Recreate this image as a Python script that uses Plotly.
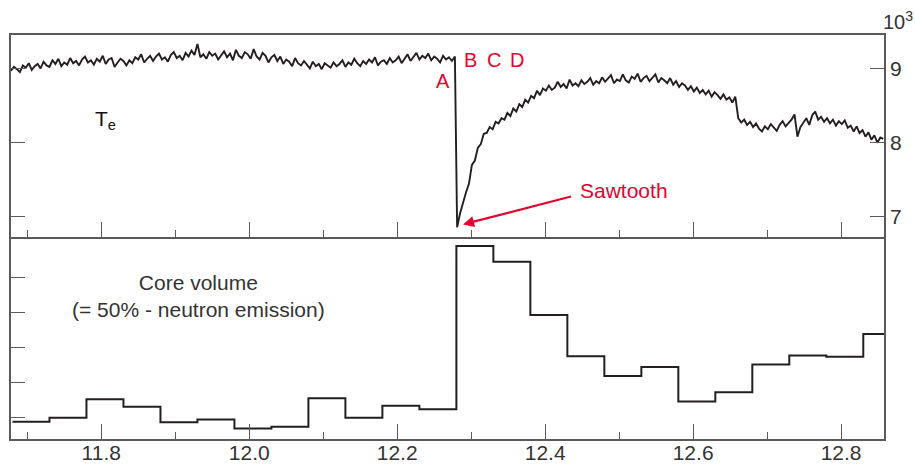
import plotly.graph_objects as go

# ---------------- data ----------------
# Electron temperature trace (units of 10^3), uniform sampling
te_left_t0 = 11.678
te_right_t0 = 12.281
te_dt = 0.004
te_left = [
    8.97, 9.02, 8.99, 8.95, 9.04, 9.01, 9.07, 8.98, 9.03, 9.06,
    9.00, 9.09, 9.04, 9.02, 9.11, 9.06, 9.13, 9.03, 9.08, 9.05,
    9.14, 9.07, 9.10, 9.04, 9.12, 9.16, 9.08, 9.11, 9.05, 9.13,
    9.09, 9.17, 9.06, 9.12, 9.14, 9.02, 9.08, 9.13, 9.10, 9.04,
    9.11, 9.07, 9.15, 9.12, 9.19, 9.08, 9.13, 9.17, 9.10, 9.16,
    9.20, 9.12, 9.15, 9.09, 9.18, 9.22, 9.14, 9.17, 9.11, 9.21,
    9.16, 9.24, 9.18, 9.33, 9.15, 9.19, 9.13, 9.22, 9.17, 9.20,
    9.12, 9.18, 9.23, 9.15, 9.20, 9.11, 9.25, 9.17, 9.14, 9.22,
    9.19, 9.13, 9.26, 9.16, 9.12, 9.21, 9.17, 9.08, 9.15, 9.18,
    9.10, 9.16, 9.06, 9.12, 9.09, 9.03, 9.14, 9.07, 9.04, 9.10,
    9.05, 9.00, 9.09, 9.03, 9.06, 8.99, 9.07, 9.04, 9.01, 9.08,
    9.03, 9.06, 9.11, 9.02, 9.08, 9.05, 9.13, 9.07, 9.03, 9.10,
    9.06, 9.12, 9.08, 9.15, 9.04, 9.09, 9.11, 9.06, 9.14, 9.08,
    9.11, 9.16, 9.07, 9.13, 9.19, 9.10, 9.15, 9.21, 9.12, 9.17,
    9.14, 9.20, 9.11, 9.16, 9.13, 9.08, 9.17, 9.12, 9.15, 9.10,
    9.16,
]
te_right = [
    6.86, 7.05, 7.20, 7.33, 7.45, 7.70, 7.76, 7.93, 7.98, 8.12,
    8.13, 8.21, 8.18, 8.28, 8.26, 8.33, 8.31, 8.40, 8.36, 8.46,
    8.42, 8.52, 8.48, 8.58, 8.54, 8.63, 8.60, 8.70, 8.64, 8.73,
    8.70, 8.77, 8.71, 8.74, 8.82, 8.75, 8.79, 8.73, 8.85, 8.77,
    8.80, 8.76, 8.84, 8.79, 8.82, 8.87, 8.78, 8.83, 8.80, 8.88,
    8.82, 8.86, 8.91, 8.80, 8.85, 8.83, 8.92, 8.84, 8.81, 8.89,
    8.86, 8.93, 8.82, 8.87, 8.90, 8.83, 8.88, 8.92, 8.81, 8.87,
    8.84, 8.80, 8.87, 8.78, 8.83, 8.75, 8.80, 8.77, 8.71, 8.76,
    8.69, 8.74, 8.67, 8.71, 8.65, 8.70, 8.62, 8.68, 8.64, 8.59,
    8.65, 8.58, 8.61, 8.54, 8.62, 8.33, 8.27, 8.31, 8.24, 8.28,
    8.21, 8.26, 8.19, 8.15, 8.22, 8.18, 8.25, 8.20, 8.16, 8.24,
    8.29, 8.22, 8.27, 8.31, 8.38, 8.08, 8.21, 8.28, 8.33, 8.24,
    8.37, 8.42, 8.31, 8.35, 8.28, 8.33, 8.26, 8.31, 8.23, 8.29,
    8.25, 8.30, 8.20, 8.23, 8.15, 8.22, 8.13, 8.17, 8.08, 8.14,
    8.04, 8.10, 8.00, 8.07, 8.05,
]

# Core volume (neutron emission) histogram, arbitrary units
core_edges = [11.68, 11.73, 11.78, 11.83, 11.88, 11.93, 11.98, 12.03, 12.08,
              12.13, 12.18, 12.23, 12.28, 12.33, 12.38, 12.43, 12.48, 12.53,
              12.58, 12.63, 12.68, 12.73, 12.78, 12.83, 12.88]
core_levels = [0.89, 1.01, 1.53, 1.32, 0.88, 0.96, 0.70, 0.75, 1.56, 1.01,
               1.35, 1.25, 5.88, 5.43, 3.92, 2.75, 2.19, 2.45, 1.47, 1.73,
               2.52, 2.77, 2.74, 3.38]

x_major = [11.8, 12.0, 12.2, 12.4, 12.6, 12.8]
x_major_text = ["11.8", "12.0", "12.2", "12.4", "12.6", "12.8"]
x_minor = [11.7, 11.9, 12.1, 12.3, 12.5, 12.7]
te_ticks = [7, 8, 9]
core_ticks = [1, 2, 3, 4, 5]

# ---------------- figure ----------------
te_t = [te_left_t0 + te_dt * i for i in range(len(te_left))] + \
       [te_right_t0 + te_dt * j for j in range(len(te_right))]
te_v = te_left + te_right

LINE = "#231f20"
AX = "#5a5a5a"
RED = "#e4032e"
TXT = "#333333"
FONT = "Liberation Sans, Arial, sans-serif"

fig = go.Figure()
fig.add_trace(go.Scatter(x=te_t, y=te_v, mode="lines", xaxis="x2", yaxis="y2",
                         line=dict(color=LINE, width=1.9), showlegend=False,
                         hoverinfo="skip"))
fig.add_trace(go.Scatter(x=core_edges[:-1] + [core_edges[-1]],
                         y=core_levels + [core_levels[-1]],
                         mode="lines", line=dict(color=LINE, width=2, shape="hv"),
                         xaxis="x", yaxis="y", showlegend=False, hoverinfo="skip"))

xr = [11.678, 12.858]
common_x = dict(range=xr, ticks="inside", ticklen=15, tickwidth=1, tickcolor=AX,
                tickvals=x_major, showline=True, linecolor=AX, linewidth=1.5,
                showgrid=False, zeroline=False, automargin=False,
                minor=dict(tickvals=x_minor, ticks="inside", ticklen=7,
                           tickcolor=AX, tickwidth=1))

fig.update_layout(
    width=915, height=468,
    margin=dict(l=11, r=31, t=35, b=29, autoexpand=False),
    paper_bgcolor="white", plot_bgcolor="white",
    font=dict(family=FONT, size=21, color=TXT),
    xaxis=dict(**common_x, anchor="y", mirror=False, ticktext=x_major_text,
               showticklabels=True, ticklabelstandoff=-6,
               tickfont=dict(size=21, color=TXT)),
    xaxis2=dict(**common_x, anchor="y2", matches="x", mirror=True,
                showticklabels=False),
    yaxis=dict(domain=[0, 0.5], range=[0.404, 6.135], tickvals=core_ticks,
               ticks="inside", ticklen=14, tickcolor=AX, showticklabels=False,
               showline=True, linecolor=AX, linewidth=1.5, mirror=True,
               showgrid=False, zeroline=False, automargin=False),
    yaxis2=dict(domain=[0.5, 1], range=[6.73, 9.45], tickvals=te_ticks,
                ticktext=[str(v) for v in te_ticks], side="right",
                ticks="inside", ticklen=14, tickcolor=AX, anchor="x2",
                showline=True, linecolor=AX, linewidth=1.5, mirror="allticks",
                showgrid=False, zeroline=False, automargin=False,
                tickfont=dict(size=21, color=TXT)),
)

ann = [
    dict(x=0.996, y=1.0, xref="paper", yref="paper", xanchor="left",
         yanchor="bottom", text="10<sup>3</sup>",
         showarrow=False, font=dict(size=20, color=TXT)),
    dict(x=11.806, y=8.31, xref="x2", yref="y2", text="T<sub>e</sub>",
         showarrow=False, font=dict(size=21, color="#111111")),
    dict(x=12.262, y=8.83, xref="x2", yref="y2", text="A", showarrow=False,
         font=dict(size=20, color=RED)),
    dict(x=12.299, y=9.11, xref="x2", yref="y2", text="B", showarrow=False,
         font=dict(size=20, color=RED)),
    dict(x=12.331, y=9.11, xref="x2", yref="y2", text="C", showarrow=False,
         font=dict(size=20, color=RED)),
    dict(x=12.362, y=9.11, xref="x2", yref="y2", text="D", showarrow=False,
         font=dict(size=20, color=RED)),
    dict(x=12.506, y=7.36, xref="x2", yref="y2", text="Sawtooth", showarrow=False,
         font=dict(size=21, color=RED)),
    dict(x=12.289, y=6.90, xref="x2", yref="y2", ax=12.437, ay=7.28,
         axref="x2", ayref="y2", text="", showarrow=True, arrowhead=2,
         arrowsize=1, arrowwidth=2.2, arrowcolor=RED, standoff=0),
    dict(x=11.932, y=4.46, xref="x", yref="y",
         text="Core volume<br>(= 50% - neutron emission)", showarrow=False,
         font=dict(size=21, color=TXT)),
]
fig.update_layout(annotations=ann)

fig.write_html("out.html")
